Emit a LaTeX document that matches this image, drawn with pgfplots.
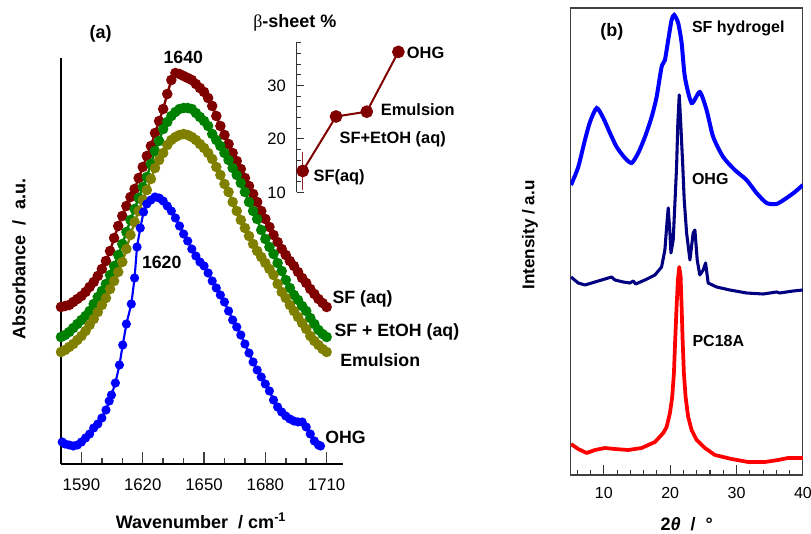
\documentclass[border=0pt]{standalone}
\usepackage{pgfplots}
\pgfplotsset{compat=1.18}
\usepackage{fontspec}
\setmainfont{Liberation Sans}
\newfontfamily\symfont{Liberation Serif}

\definecolor{cRed}{RGB}{128,0,0}
\definecolor{cGreen}{RGB}{0,128,0}
\definecolor{cOlive}{RGB}{128,128,0}
\definecolor{cBlue}{RGB}{0,0,255}
\definecolor{cNavy}{RGB}{0,0,128}
\definecolor{cPC}{RGB}{255,0,0}

\newcommand{\fs}[1]{\fontsize{#1}{#1}\selectfont}

\begin{document}
\begin{tikzpicture}
\path[use as bounding box] (0,0) rectangle (608.25pt,399.75pt);

% ---------- (a) FTIR amide I ----------
\begin{axis}[
    at={(45.75pt,51.75pt)}, anchor=south west,
    scale only axis, width=211.5pt, height=304.5pt,
    xmin=1580, xmax=1718, ymin=0, ymax=406,
    axis x line=bottom, axis y line=left,
    axis line style={-, line width=1.5pt},
    ytick=\empty,
    xtick={1590,1620,...,1710},
    minor xtick={1600,1610,...,1700},
    tick align=inside,
    major tick length=9pt, minor tick length=4.5pt,
    every tick/.style={line width=1.1pt, black!75},
    /pgf/number format/assume math mode=true,
    /pgf/number format/1000 sep={},
    xticklabel style={font=\fs{12.6}},
    xticklabel shift=7.6pt,
    clip=false,
]
% SF (aq)
\addplot[cRed, line width=1.8pt, mark=*, mark size=3pt] coordinates {
(1580,157)(1582,158)(1584,159)(1586,162)(1588,165)(1590,168)(1592,172)(1594,177)(1596,182)(1598,188)
(1600,195)(1602,203)(1604,213)(1606,226)(1608,238)(1610,248)(1612,258)(1614,267)(1616,275)(1618,286)
(1620,297)(1622,308)(1624,318)(1626,331)(1628,343)(1630,355)(1632,370)(1634,384)(1636,391)(1638,390)
(1640,388)(1642,386)(1644,384)(1646,380)(1648,376)(1650,372)(1652,366)(1654,358)(1656,348)(1658,338)
(1660,329)(1662,320)(1664,311)(1666,303)(1668,295)(1670,286)(1672,278)(1674,270)(1676,262)(1678,253)
(1680,245)(1682,237)(1684,229)(1686,222)(1688,215)(1690,209)(1692,203)(1694,198)(1696,192)(1698,186)
(1700,181)(1702,175)(1704,170)(1706,165)(1708,161)(1710,157)
};
% SF + EtOH (aq)
\addplot[cGreen, line width=1.8pt, mark=*, mark size=3pt] coordinates {
(1580,127)(1582,129)(1584,132)(1586,136)(1588,140)(1590,144)(1592,148)(1594,153)(1596,160)(1598,167)
(1600,173)(1602,180)(1604,189)(1606,198)(1608,209)(1610,220)(1612,232)(1614,244)(1616,255)(1618,266)
(1620,277)(1622,287)(1624,300)(1626,313)(1628,323)(1630,335)(1632,342)(1634,348)(1636,352)(1638,355)
(1640,356)(1642,356)(1644,355)(1646,351)(1648,347)(1650,343)(1652,338)(1654,330)(1656,324)(1658,318)
(1660,311)(1662,304)(1664,296)(1666,289)(1668,281)(1670,272)(1672,262)(1674,253)(1676,245)(1678,234)
(1680,225)(1682,217)(1684,210)(1686,201)(1688,193)(1690,184)(1692,176)(1694,169)(1696,164)(1698,158)
(1700,153)(1702,146)(1704,140)(1706,134)(1708,130)(1710,127)
};
% Emulsion
\addplot[cOlive, line width=1.8pt, mark=*, mark size=3pt] coordinates {
(1580,112)(1582,114)(1584,117)(1586,120)(1588,124)(1590,128)(1592,133)(1594,139)(1596,145)(1598,152)
(1600,159)(1602,166)(1604,175)(1606,183)(1608,192)(1610,202)(1612,215)(1614,229)(1616,242)(1618,253)
(1620,264)(1622,274)(1624,285)(1626,296)(1628,304)(1630,311)(1632,319)(1634,324)(1636,327)(1638,329)
(1640,330)(1642,329)(1644,327)(1646,324)(1648,320)(1650,316)(1652,311)(1654,305)(1656,297)(1658,289)
(1660,280)(1662,272)(1664,262)(1666,253)(1668,244)(1670,236)(1672,228)(1674,220)(1676,213)(1678,207)
(1680,201)(1682,195)(1684,189)(1686,180)(1688,172)(1690,166)(1692,159)(1694,153)(1696,147)(1698,141)
(1700,135)(1702,128)(1704,123)(1706,119)(1708,115)(1710,112)
};
% OHG
\addplot[cBlue, line width=1.6pt, mark=*, mark size=2.6pt] coordinates {
(1580.6,22)(1582,20)(1584,19)(1586,18)(1588,19)(1590,22)(1592,26)(1594,30)(1596,36)(1598,40)
(1600,46)(1602,54)(1603.6,63)(1604.7,69)(1606.6,81)(1608.6,99)(1610.2,119)(1612,140)(1614.4,160)
(1616,186)(1617.2,217)(1618.8,236)(1620.4,252)(1622,260)(1624,264)(1626,267)(1628,266)(1630,263)
(1632,258)(1634,253)(1636,246)(1638,238)(1640,230)(1642,223)(1644,215)(1646,208)(1648,202)(1650,198)
(1652,191)(1654,183)(1656,176)(1658,169)(1660,162)(1662,153)(1664,144)(1666,137)(1668,129)(1670,120)
(1672,111)(1674,102)(1676,94)(1678,87)(1680,80)(1682,73)(1684,64)(1686,57)(1688,52)(1690,48)
(1692,45)(1694,43)(1696,42)(1698,42)(1700,37)(1702,30)(1704,23)(1706,19)(1707,18)
};
\end{axis}

% ---------- inset: beta-sheet % ----------
\begin{axis}[
    at={(222.5pt,255.5pt)}, anchor=south west,
    scale only axis, width=85pt, height=112.95pt,
    xmin=0.81, xmax=4.365, ymin=10, ymax=38.2,
    axis x line=none, axis y line=left,
    axis line style={-, line width=0.9pt, black!80},
    ytick={10,20,30}, minor ytick={12,14,...,38},
    tick align=inside,
    major tick length=5.5pt, minor tick length=3pt,
    every tick/.style={line width=0.8pt, black!80},
    /pgf/number format/assume math mode=true,
    yticklabel style={font=\fs{12.4}},
    yticklabel shift=4.6pt,
    clip=false,
]
\addplot[cRed, line width=1.5pt, mark=*, mark size=4pt,
    error bars/.cd, y dir=both, y explicit,
    error bar style={line width=0.6pt, cRed!85!white},
    error mark=-, error mark options={mark size=2.5pt, line width=0.6pt, cRed!85!white}]
coordinates {
(1,14) +- (0,3)
(2.045,24.2) +- (0,0)
(3.008,25.1) +- (0,0)
(4,36.3) +- (0,0)
};
\end{axis}

% ---------- (b) XRD ----------
\begin{axis}[
    at={(428.0pt,43.5pt)}, anchor=south west,
    scale only axis, width=174.2pt, height=350.25pt,
    xmin=5, xmax=40, ymin=0, ymax=467,
    axis line style={line width=0.8pt, black!75},
    ytick=\empty,
    xtick={10,20,30,40},
    minor xtick={6,8,...,38},
    xtick pos=bottom,
    tick align=inside,
    major tick length=7.5pt, minor tick length=3.75pt,
    every tick/.style={line width=0.8pt, black!80},
    /pgf/number format/assume math mode=true,
    xticklabel style={font=\fs{12}},
    xticklabel shift=6pt,
]
% SF hydrogel
\addplot[cBlue, line width=3pt, smooth, tension=0.4] coordinates {
(5.05,290)(6.14,308)(7.15,335)(7.91,353)(8.92,367)(9.91,357)(10.92,342)(11.93,328)(13.18,317)
(14.19,312)(15.18,322)(16.19,338)(17.20,358)(17.95,378)(18.70,408)(19.20,415)(19.70,435)(20.21,455)
(20.60,460)(21.20,452)(21.72,432)(22.21,398)(23.22,372)(24.46,383)(25.48,365)(26.48,338)(27.98,318)
(29.74,305)(31.51,295)(33.01,282)(34.52,272)(36.02,271)(37.53,277)(38.78,283)(40.0,290)
};
% OHG
\addplot[cNavy, line width=2.3pt, line join=round] coordinates {
(5.05,198)(6.14,192)(7.15,190)(8.66,193)(10.17,196)(11.17,198)(11.67,195)(12.92,193)(13.93,192)
(14.43,194)(14.79,191)(16.19,195)(17.70,200)(18.70,208)(19.20,225)(19.46,248)(19.70,267)(19.96,242)
(20.11,222)(20.45,235)(20.96,308)(21.15,352)(21.36,380)(21.60,350)(21.90,308)(22.11,275)(22.47,242)
(22.97,215)(23.46,242)(23.72,245)(24.07,215)(24.46,200)(24.97,205)(25.33,212)(25.72,192)(26.99,188)
(28.99,185)(31.51,182)(34.01,181)(36.02,183)(36.52,182)(38.52,184)(40.0,185)
};
% PC18A
\addplot[cPC, line width=2.8pt, line join=round] coordinates {
(5.05,31)(6.14,26)(7.41,22)(8.66,25)(10.17,27)(11.67,26)(13.67,25)(15.69,27)(17.70,33)(18.95,42)
(19.46,48)(19.96,62)(20.30,78)(20.56,102)(20.75,135)(20.96,168)(21.16,195)(21.36,208)(21.57,198)
(21.72,168)(21.87,135)(22.06,102)(22.32,78)(22.71,58)(23.22,45)(23.98,35)(25.23,27)(26.73,20)
(29.25,16)(31.75,13)(34.26,13)(36.27,15)(37.77,17)(40.0,17)
};
\end{axis}

% ---------- texts ----------
\begin{scope}[every node/.style={inner sep=0pt}]
% panel (a)
\node[anchor=base west, font=\fs{13.5}\bfseries] at (67pt,370.5pt) {(a)};
\node[anchor=base west, font=\fs{13.3}\bfseries] at (122.5pt,352.3pt) {1640};
\node[anchor=base west, font=\fs{13.3}\bfseries] at (106.3pt,198.5pt) {1620};
\node[anchor=base west, font=\fs{13.3}\bfseries] at (249.2pt,172.3pt) {SF (aq)};
\node[anchor=base west, font=\fs{13.3}\bfseries] at (250.7pt,147.75pt) {SF + EtOH (aq)};
\node[anchor=base west, font=\fs{13.3}\bfseries] at (255pt,124.7pt) {Emulsion};
\node[anchor=base west, font=\fs{13.3}\bfseries] at (243.75pt,67.3pt) {OHG};
\node[anchor=base, font=\fs{13.5}\bfseries] at (150.75pt,3.75pt) {Wavenumber\ \ / cm\textsuperscript{-1}};
\node[anchor=center, rotate=90, font=\fs{13.5}\bfseries] at (14.25pt,205.5pt) {Absorbance\ \ /\ \ a.u.};
% inset
\node[anchor=base west, font=\fs{13.5}] at (189.75pt,379.3pt) {{\symfont β}\textbf{-sheet \%}};
\node[anchor=base west, font=\fs{12.3}\bfseries] at (235pt,263.3pt) {SF(aq)};
\node[anchor=base west, font=\fs{12.3}\bfseries] at (254.5pt,291.75pt) {SF+EtOH (aq)};
\node[anchor=base west, font=\fs{12.3}\bfseries] at (285.5pt,313pt) {Emulsion};
\node[anchor=base west, font=\fs{12.3}\bfseries] at (305pt,356pt) {OHG};
% panel (b)
\node[anchor=base west, font=\fs{13.5}\bfseries] at (450pt,372.2pt) {(b)};
\node[anchor=base west, font=\fs{12}\bfseries] at (518.8pt,375.4pt) {SF hydrogel};
\node[anchor=base west, font=\fs{12}\bfseries] at (518.8pt,261pt) {OHG};
\node[anchor=base west, font=\fs{12}\bfseries] at (519.2pt,139.7pt) {PC18A};
\node[anchor=base, font=\fs{13.5}\bfseries] at (515pt,2.25pt) {2\textit{θ}\ \ /\ \ °};
\node[anchor=center, rotate=90, font=\fs{12.8}\bfseries] at (397.5pt,223.5pt) {Intensity\ /\ a.u};
\end{scope}
\end{tikzpicture}
\end{document}
